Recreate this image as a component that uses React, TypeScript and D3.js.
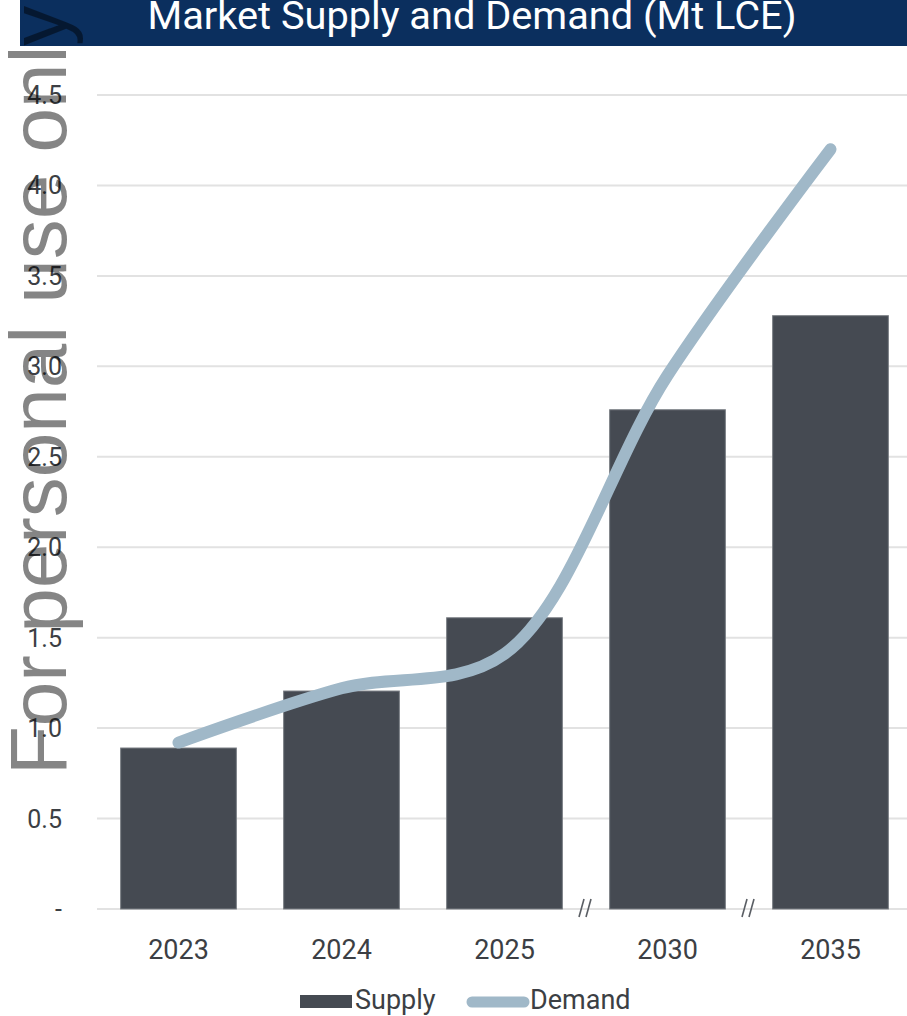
import React from "react";
import * as d3 from "d3";

const categories = ["2023", "2024", "2025", "2030", "2035"];
const supply = [0.89, 1.205, 1.61, 2.76, 3.28];
const demand = [0.92, 1.22, 1.41, 2.95, 4.2];
const yTicks = [0, 0.5, 1.0, 1.5, 2.0, 2.5, 3.0, 3.5, 4.0, 4.5];
const breakAfter = ["2025", "2030"];
const title = "Market Supply and Demand (Mt LCE)";
const watermark = "For personal use only";

const W = 907;
const H = 1016;

export default function App() {
  const x = d3.scaleBand<string>().domain(categories).range([97, 912]).paddingInner(0.29).paddingOuter(0.145);
  const y = d3.scaleLinear().domain([0, 4.5]).range([909, 95]);
  const fmt = (v: number) => (v === 0 ? "-" : d3.format(".1f")(v));
  const step = x.step();
  const cx = (c: string) => (x(c) as number) + x.bandwidth() / 2;

  const line = d3
    .line<number>()
    .x((_, i) => cx(categories[i]))
    .y((d) => y(d))
    .curve(d3.curveCatmullRom.alpha(0.5));

  const font = "Roboto, 'Noto Sans', sans-serif";

  return (
    <svg
      width={W}
      height={H}
      viewBox={`0 0 ${W} ${H}`}
      style={{ position: "absolute", left: 0, top: 0, background: "#fff" }}
    >
      {/* title banner */}
      <rect x={20} y={0} width={W - 20} height={46} fill="#0b2f5e" />
      <text
        x={472}
        y={29}
        fill="#fff"
        fontFamily="Roboto, 'Liberation Sans', Arial, sans-serif"
        fontSize={38}
        textAnchor="middle"
        textLength={649}
        lengthAdjust="spacingAndGlyphs"
      >
        {title}
      </text>

      {/* gridlines */}
      {yTicks.map((t) => (
        <line key={t} x1={97} x2={W} y1={y(t)} y2={y(t)} stroke="#e2e2e2" strokeWidth={2} />
      ))}

      {/* y tick labels */}
      {yTicks.map((t) => (
        <text
          key={"l" + t}
          x={62}
          y={y(t)}
          dy="0.36em"
          textAnchor="end"
          fontFamily={font}
          fontSize={25}
          fill="#3c3f44"
        >
          {fmt(t)}
        </text>
      ))}

      {/* bars */}
      {categories.map((c, i) => (
        <rect
          key={c}
          x={x(c)}
          y={y(supply[i])}
          width={x.bandwidth()}
          height={y(0) - y(supply[i])}
          fill="#454a52"
          stroke="#7a7e84"
          strokeWidth={1}
        />
      ))}

      {/* axis break marks */}
      {breakAfter.map((c) => {
        const bx = (x(c) as number) + x.bandwidth() + (step - x.bandwidth()) / 2;
        return (
          <g key={"b" + c} stroke="#5a5e64" strokeWidth={1.6}>
            <line x1={bx - 2} y1={899} x2={bx - 7} y2={917} />
            <line x1={bx + 5} y1={899} x2={bx} y2={917} />
          </g>
        );
      })}

      {/* x labels */}
      {categories.map((c) => (
        <text
          key={"x" + c}
          x={cx(c)}
          y={959}
          textAnchor="middle"
          fontFamily={font}
          fontSize={27}
          fill="#3c3f44"
        >
          {c}
        </text>
      ))}

      {/* demand line */}
      <path
        d={line(demand) || ""}
        fill="none"
        stroke="#a0b8c8"
        strokeWidth={12}
        strokeLinecap="round"
        strokeLinejoin="round"
      />

      {/* legend */}
      <rect x={300} y={995} width={52} height={13} fill="#454a52" />
      <text x={355} y={1009} fontFamily={font} fontSize={27} fill="#3c3f44">
        Supply
      </text>
      <line x1={472} x2={524} y1={1002} y2={1002} stroke="#a0b8c8" strokeWidth={11} strokeLinecap="round" />
      <text x={530} y={1009} fontFamily={font} fontSize={27} fill="#3c3f44">
        Demand
      </text>

      {/* watermark */}
      <text
        transform="translate(66,775) rotate(-90)"
        fontFamily="'Liberation Sans', Arial, sans-serif"
        fontSize={80}
        fill="#000"
        fillOpacity={0.48}
      >
        {watermark}
      </text>
    </svg>
  );
}
